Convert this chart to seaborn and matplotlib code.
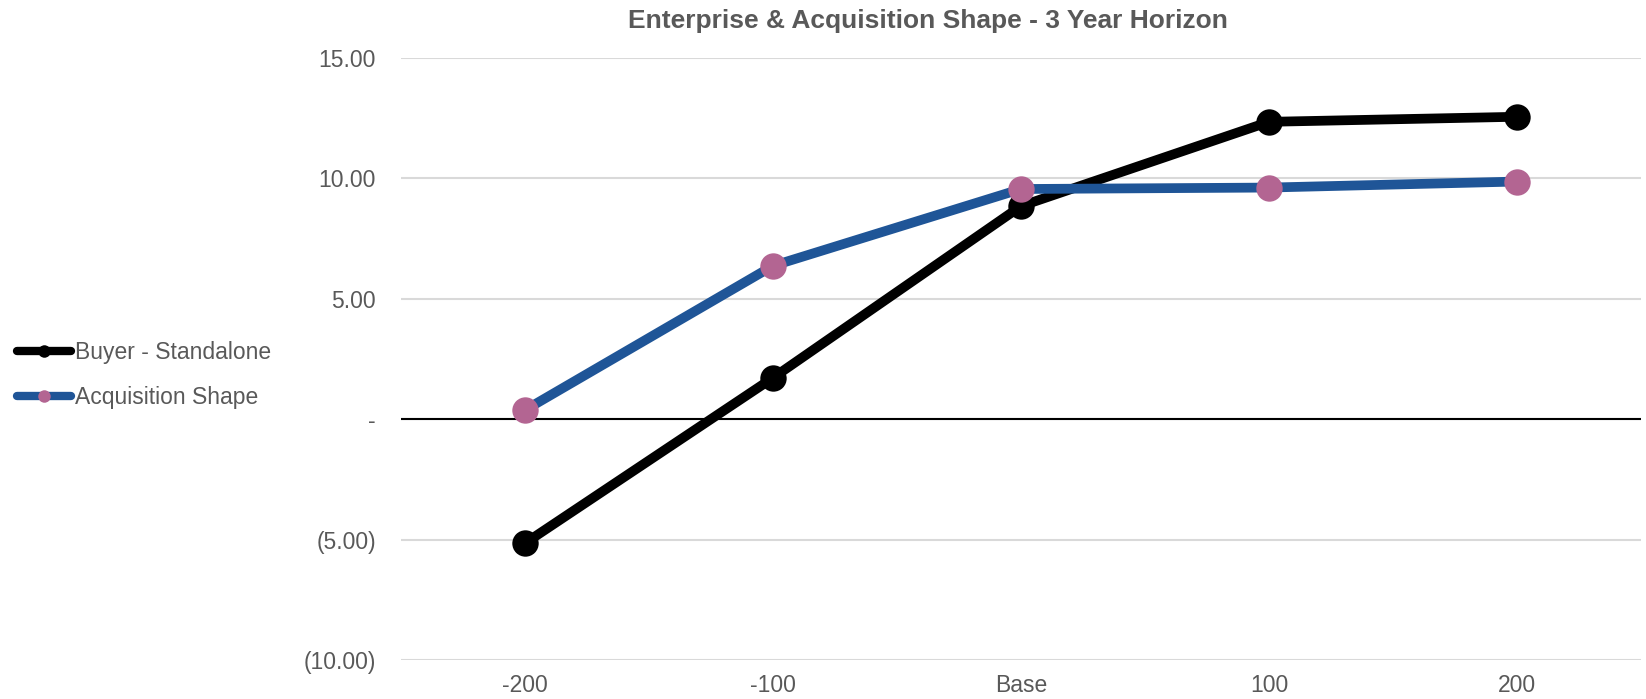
import matplotlib
matplotlib.use("Agg")
import matplotlib.pyplot as plt
from matplotlib.ticker import FuncFormatter, MultipleLocator
import seaborn as sns
import pandas as pd

# Scenario labels and the two series
scenarios = ["-200", "-100", "Base", "100", "200"]
buyer_standalone = [-5.15, 1.72, 8.85, 12.35, 12.56]
acquisition_shape = [0.38, 6.37, 9.56, 9.62, 9.87]

series_names = ["Buyer - Standalone", "Acquisition Shape"]
line_colors = ["#000000", "#1F5597"]
marker_colors = ["#000000", "#B36592"]

sns.set_theme(style="white")
plt.rcParams["font.family"] = ["Liberation Sans", "DejaVu Sans"]

text_gray = "#595959"

df = pd.DataFrame({
    "scenario": scenarios * 2,
    "pos": list(range(len(scenarios))) * 2,
    "value": buyer_standalone + acquisition_shape,
    "series": [series_names[0]] * len(scenarios) + [series_names[1]] * len(scenarios),
})

fig = plt.figure(figsize=(16.46, 6.99), dpi=100)
ax = fig.add_axes([0.2436, 0.0558, 0.7534, 0.8612])

for name, lc, mc in zip(series_names, line_colors, marker_colors):
    sub = df[df["series"] == name]
    sns.lineplot(data=sub, x="pos", y="value", ax=ax, color=lc, linewidth=7,
                 marker="o", markersize=19, markerfacecolor=mc,
                 markeredgecolor=mc, markeredgewidth=0, label=name,
                 zorder=3, legend=False)

ax.set_xlim(-0.5, len(scenarios) - 0.5)
ax.set_ylim(-10, 15)
ax.set_xticks(range(len(scenarios)))
ax.set_xticklabels(scenarios)
ax.yaxis.set_major_locator(MultipleLocator(5))


def acct(v, _):
    if abs(v) < 1e-9:
        return "-"
    if v < 0:
        return f"({-v:.2f})"
    return f"{v:.2f}"


ax.yaxis.set_major_formatter(FuncFormatter(acct))
ax.grid(axis="y", color="#D9D9D9", linewidth=1.5, zorder=0)
ax.grid(axis="x", visible=False)
ax.axhline(0, color="black", linewidth=1.5, zorder=2)
for s in ax.spines.values():
    s.set_visible(False)
ax.tick_params(axis="both", length=0, labelsize=16.5, labelcolor=text_gray)
ax.tick_params(axis="y", pad=18)
ax.tick_params(axis="x", pad=10)
ax.set_xlabel("")
ax.set_ylabel("")

fig.text(0.564, 0.970, "Enterprise & Acquisition Shape - 3 Year Horizon",
         ha="center", va="center", fontsize=19, fontweight="bold",
         color=text_gray)

handles, labels = ax.get_legend_handles_labels()
leg = fig.legend(handles, labels, loc="center left",
                 bbox_to_anchor=(-0.002, 0.463), frameon=False,
                 fontsize=16.5, labelcolor=text_gray, handlelength=2.35,
                 handletextpad=0.15, labelspacing=0.95)
for h in leg.legend_handles:
    h.set_markersize(9)
    h.set_linewidth(6)

fig.savefig("out.png", dpi=100)
